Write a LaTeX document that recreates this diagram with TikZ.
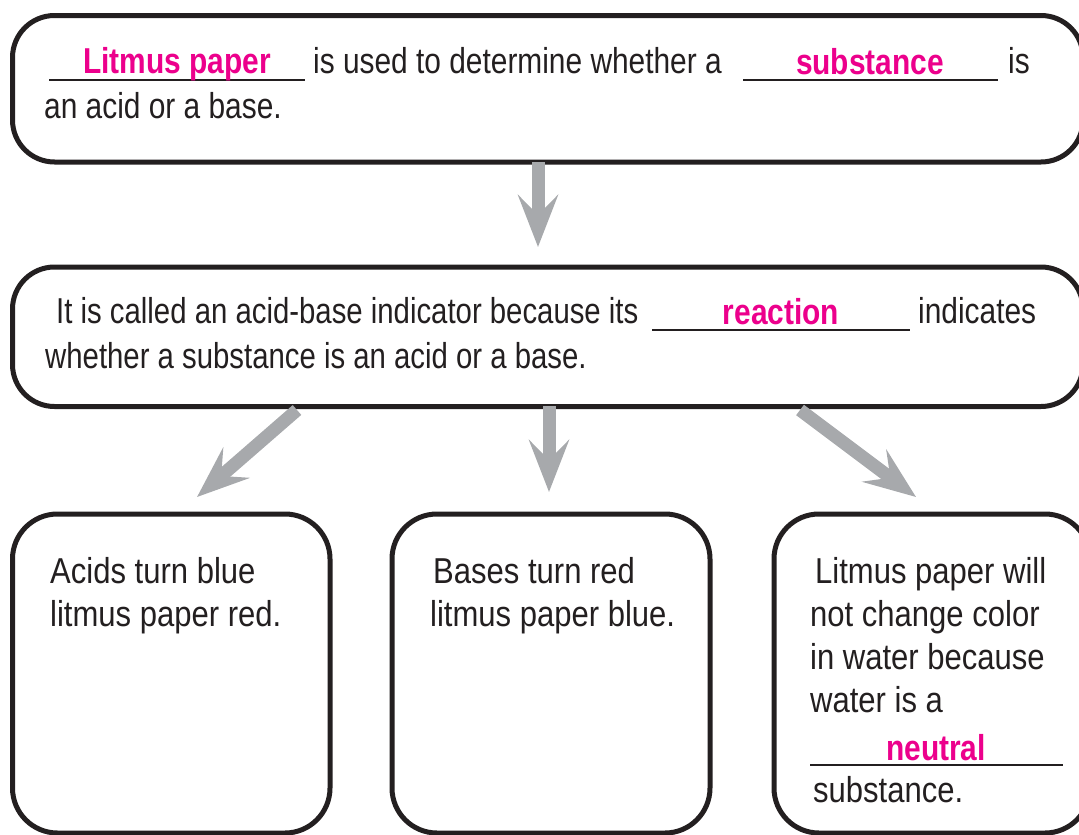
\documentclass[tikz,border=0pt]{standalone}
\usepackage{fontspec}
\setmainfont{Liberation Sans}[FakeStretch=0.83]
\newfontfamily\widerfont{Liberation Sans}[FakeStretch=0.862]
\newfontfamily\narrowfont{Liberation Sans}[FakeStretch=0.815]
\usetikzlibrary{arrows.meta}
\definecolor{ink}{HTML}{231F20}
\definecolor{pinkink}{HTML}{EC008C}
\definecolor{arrowgray}{HTML}{A7A9AC}

\begin{document}
\begin{tikzpicture}[x=1pt,y=-1pt,
  box/.style={draw=ink, fill=white, line width=5pt, rounded corners=#1, inner sep=0pt},
  box/.default=45pt,
  txt/.style={anchor=base west, inner sep=0pt, text=ink, font=\fontsize{36pt}{42pt}\selectfont},
  ltxt/.style={txt, font=\widerfont\fontsize{36pt}{42pt}\selectfont},
  ntxt/.style={txt, font=\narrowfont\fontsize{36pt}{42pt}\selectfont},
  ans/.style={anchor=base, inner sep=0pt, text=pinkink, font=\fontsize{36pt}{42pt}\selectfont\bfseries},
  blank/.style={draw=ink, line width=2.5pt},
  garrow/.style={draw=arrowgray, line width=13pt, -{Stealth[length=52pt,width=40pt,inset=20pt]}}]

\useasboundingbox (0,0) rectangle (1079,835);
\clip (0,0) rectangle (1079,835);

% arrow start and tip points
\coordinate (a1s) at (538,162);   \coordinate (a1t) at (538,247);
\coordinate (a2s) at (297,410);   \coordinate (a2t) at (197,497);
\coordinate (a3s) at (549,406);   \coordinate (a3t) at (549,492);
\coordinate (a4s) at (800,410);   \coordinate (a4t) at (916,497);

% boxes
\node[box=42pt, minimum width=1070.5pt, minimum height=146.5pt] (top) at (547.75,88.75) {};
\node[box=42pt, minimum width=1070.5pt, minimum height=139.5pt] (mid) at (547.75,336.75) {};
\node[box, minimum width=317.5pt, minimum height=319pt] (acid) at (171.25,673.5) {};
\node[box, minimum width=318pt, minimum height=319pt] (base) at (551,673.5) {};
\node[box, minimum width=316pt, minimum height=319pt] (water) at (932,673.5) {};

% connectors
\draw[garrow] (a1s) -- (a1t);
\draw[garrow] (a2s) -- (a2t);
\draw[garrow] (a3s) -- (a3t);
\draw[garrow] (a4s) -- (a4t);

% top box text
\draw[blank] (49,80) -- (305,80);
\node[ans] (ans1) at (177,73) {Litmus paper};
\node[txt] (t1a) at (313,73) {is used to determine whether a};
\draw[blank] (743,80) -- (998,80);
\node[ans] (ans2) at (870,74) {substance};
\node[txt] (t1b) at (1008,73) {is};
\node[txt] (t1c) at (44,118) {an acid or a base.};

% middle box text
\node[ntxt] (t2a) at (56,323) {It is called an acid-base indicator because its};
\draw[blank] (652,330) -- (910,330);
\node[ans] (ans3) at (781,324) {reaction};
\node[txt] (t2b) at (918,323) {indicates};
\node[ntxt] (t2c) at (45,368) {whether a substance is an acid or a base.};

% bottom boxes text
\node[ltxt] (t3a) at (50,583) {Acids turn blue};
\node[ltxt] (t3b) at (50,626) {litmus paper red.};

\node[ltxt] (t4a) at (433,583) {Bases turn red};
\node[ltxt] (t4b) at (430,626) {litmus paper blue.};

\node[ltxt] (t5a) at (815,583) {Litmus paper will};
\node[ltxt] (t5b) at (810,626) {not change color};
\node[ltxt] (t5c) at (810,669) {in water because};
\node[ltxt] (t5d) at (810,712) {water is a};
\draw[blank] (810,765) -- (1063,765);
\node[ans] (ans4) at (936,760) {neutral};
\node[ltxt] (t5e) at (813,802) {substance.};
\end{tikzpicture}
\end{document}
